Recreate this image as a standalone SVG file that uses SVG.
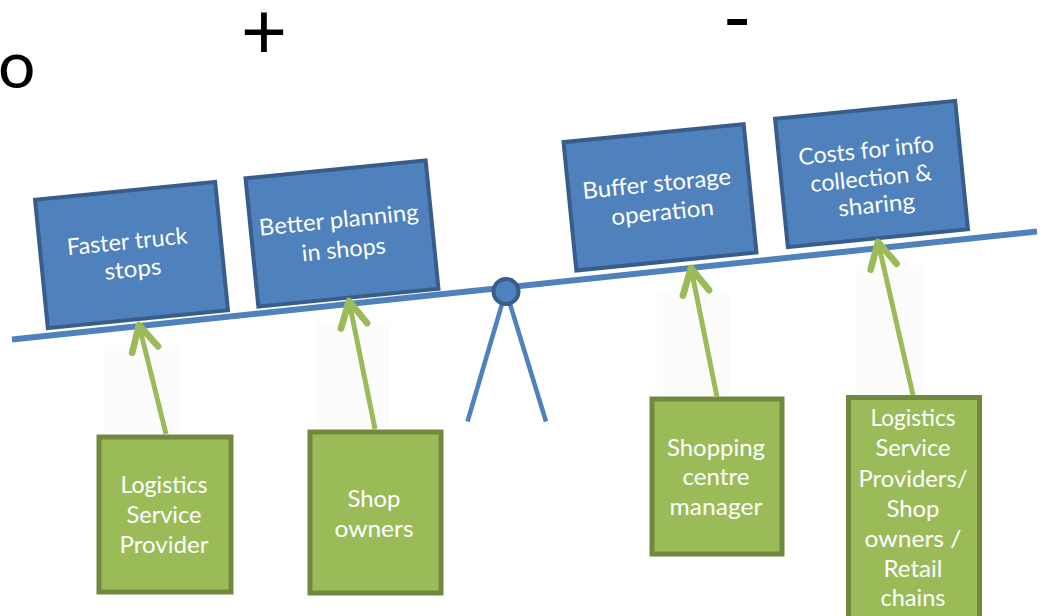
<svg xmlns="http://www.w3.org/2000/svg" width="1045" height="616" viewBox="0 0 1045 616">
  <defs>
    <style>
      .lbl { font-family: "Lato", "Open Sans", "Liberation Sans", sans-serif; fill: #ffffff; font-size: 23px; text-anchor: middle; }
      .sign { font-family: "Lato", "Liberation Sans", sans-serif; fill: #000000; }
      .issue rect { fill: #4F81BD; stroke: #385D8A; stroke-width: 4; }
      .actor rect { fill: #9BBB59; stroke: #71893F; stroke-width: 5; }
      .link { stroke: #9BBB59; stroke-width: 5; fill: none; marker-end: url(#chev); }
      .ghost { fill: #FCFCFC; }
    </style>
    <marker id="chev" markerUnits="userSpaceOnUse" markerWidth="40" markerHeight="40" viewBox="-25 -15 30 30" refX="0" refY="0" orient="auto">
      <path d="M -19 -10 L 0 0 L -19 10" fill="none" stroke="#9BBB59" stroke-width="5" stroke-linecap="round" stroke-linejoin="round"/>
    </marker>
  </defs>

  <rect width="1045" height="616" fill="#ffffff"/>

  <!-- header marks -->
  <text class="sign" x="-2" y="88" font-size="66">o</text>
  <text class="sign" x="264" y="59" font-size="80" text-anchor="middle">+</text>
  <text class="sign" x="737" y="46" font-size="80" text-anchor="middle">-</text>

  <!-- soft bands under the arrows -->
  <g id="bands">
    <rect class="ghost" x="104" y="345" width="76" height="88"/>
    <rect class="ghost" x="315" y="322" width="75" height="106"/>
    <rect class="ghost" x="657" y="290" width="73" height="106"/>
    <rect class="ghost" x="855" y="265" width="70" height="130"/>
  </g>

  <!-- seesaw -->
  <g id="seesaw">
    <line x1="12" y1="339.5" x2="1037" y2="231.5" stroke="#4F81BD" stroke-width="6"/>
    <line x1="502" y1="304" x2="467.5" y2="421.5" stroke="#4F81BD" stroke-width="4.5"/>
    <line x1="510" y1="304" x2="546" y2="421.5" stroke="#4F81BD" stroke-width="4.5"/>
    <circle cx="506" cy="291.5" r="12.5" fill="#4F81BD" stroke="#385D8A" stroke-width="4"/>
  </g>

  <!-- effects on the beam -->
  <g id="faster-truck-stops" class="issue" transform="translate(131.5 255) rotate(-5.7)">
    <rect x="-90.5" y="-64.5" width="181" height="129"/>
    <text class="lbl" x="-3" y="-6" textLength="121" lengthAdjust="spacingAndGlyphs">Faster truck</text>
    <text class="lbl" x="0" y="22" textLength="57" lengthAdjust="spacingAndGlyphs">stops</text>
  </g>
  <g id="better-planning" class="issue" transform="translate(342 233.5) rotate(-5.7)">
    <rect x="-90.5" y="-64.5" width="181" height="129"/>
    <text class="lbl" x="-2" y="-6" textLength="160" lengthAdjust="spacingAndGlyphs">Better planning</text>
    <text class="lbl" x="0" y="24" textLength="84" lengthAdjust="spacingAndGlyphs">in shops</text>
  </g>
  <g id="buffer-storage" class="issue" transform="translate(660 197.3) rotate(-5.7)">
    <rect x="-90.5" y="-64.5" width="181" height="129"/>
    <text class="lbl" x="-2" y="-6" textLength="149" lengthAdjust="spacingAndGlyphs">Buffer storage</text>
    <text class="lbl" x="1" y="23" textLength="103" lengthAdjust="spacingAndGlyphs">operation</text>
  </g>
  <g id="info-costs" class="issue" transform="translate(871.5 174) rotate(-5.7)">
    <rect x="-90.5" y="-64.5" width="181" height="129"/>
    <text class="lbl" x="-3" y="-16" textLength="136" lengthAdjust="spacingAndGlyphs">Costs for info</text>
    <text class="lbl" x="-1" y="12" textLength="122" lengthAdjust="spacingAndGlyphs">collection &amp;</text>
    <text class="lbl" x="2" y="39" textLength="77" lengthAdjust="spacingAndGlyphs">sharing</text>
  </g>

  <!-- stakeholders -->
  <g id="lsp" class="actor">
    <rect x="99" y="437" width="132" height="155"/>
    <text class="lbl" x="164" y="493" textLength="87" lengthAdjust="spacingAndGlyphs">Logistics</text>
    <text class="lbl" x="164" y="523" textLength="75" lengthAdjust="spacingAndGlyphs">Service</text>
    <text class="lbl" x="164" y="553" textLength="89" lengthAdjust="spacingAndGlyphs">Provider</text>
  </g>
  <g id="shop-owners" class="actor">
    <rect x="310" y="432" width="131" height="161"/>
    <text class="lbl" x="374" y="506.5" textLength="53" lengthAdjust="spacingAndGlyphs">Shop</text>
    <text class="lbl" x="374" y="536.5" textLength="79" lengthAdjust="spacingAndGlyphs">owners</text>
  </g>
  <g id="centre-manager" class="actor">
    <rect x="652" y="399" width="130" height="155"/>
    <text class="lbl" x="716" y="456" textLength="98" lengthAdjust="spacingAndGlyphs">Shopping</text>
    <text class="lbl" x="716" y="485" textLength="67" lengthAdjust="spacingAndGlyphs">centre</text>
    <text class="lbl" x="716" y="515" textLength="93" lengthAdjust="spacingAndGlyphs">manager</text>
  </g>
  <g id="lsp-shops-retail" class="actor">
    <rect x="848.5" y="397.5" width="131" height="240"/>
    <text class="lbl" x="913" y="426" textLength="85" lengthAdjust="spacingAndGlyphs">Logistics</text>
    <text class="lbl" x="913" y="456" textLength="75" lengthAdjust="spacingAndGlyphs">Service</text>
    <text class="lbl" x="913" y="486.5" textLength="109" lengthAdjust="spacingAndGlyphs">Providers/</text>
    <text class="lbl" x="913" y="516.5" textLength="53" lengthAdjust="spacingAndGlyphs">Shop</text>
    <text class="lbl" x="913" y="546.5" textLength="97" lengthAdjust="spacingAndGlyphs">owners /</text>
    <text class="lbl" x="913" y="577" textLength="59" lengthAdjust="spacingAndGlyphs">Retail</text>
    <text class="lbl" x="913" y="606" textLength="65" lengthAdjust="spacingAndGlyphs">chains</text>
  </g>

  <!-- connectors -->
  <g id="connectors">
    <line class="link" x1="166" y1="434" x2="139" y2="325"/>
    <line class="link" x1="375" y1="429" x2="349" y2="301"/>
    <line class="link" x1="717" y1="397" x2="691" y2="268"/>
    <line class="link" x1="913" y1="395" x2="878" y2="242"/>
  </g>
</svg>
